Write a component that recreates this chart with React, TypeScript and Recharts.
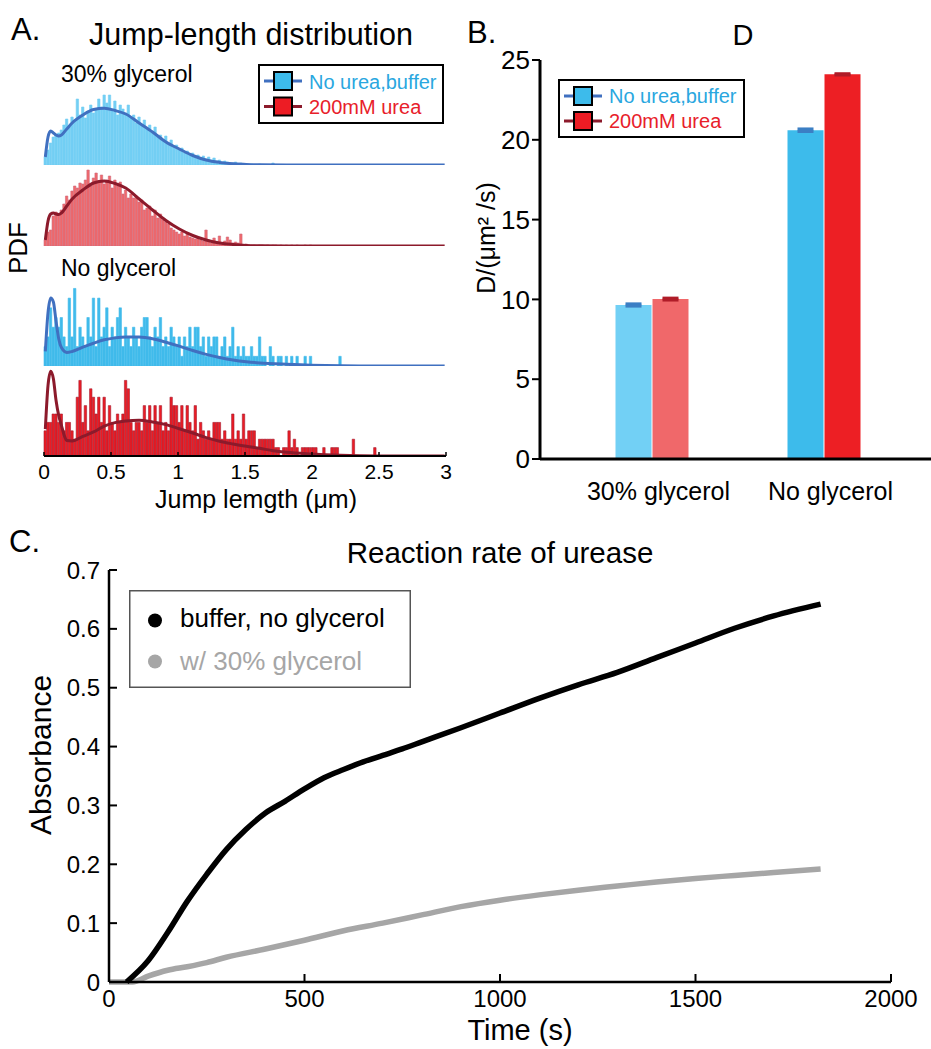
import {
  BarChart,
  Bar,
  Cell,
  ErrorBar,
  ComposedChart,
  LineChart,
  Line,
  XAxis,
  YAxis,
  Legend,
} from 'recharts'

const FONT = '"Liberation Sans", Arial, Helvetica, sans-serif'

// ---------- Panel A: jump-length histograms (bins of 0.02 µm) ----------
const BIN_WIDTH = 0.02
const BIN_COUNT = 150
const jumpTicks = [0, 0.5, 1, 1.5, 2, 2.5, 3]
const conditions = ['No urea,buffer', '200mM urea']

const gly30BufferHist = [
  8, 15, 22, 28, 30, 32, 35, 40, 46, 38, 48, 44, 66, 50, 58, 47, 54, 60, 52, 56,
  66, 58, 70, 62, 70, 55, 64, 50, 60, 56, 52, 60, 48, 50, 42, 48, 40, 45, 36, 40,
  32, 38, 28, 30, 24, 29, 22, 25, 18, 20, 15, 17, 12, 14, 10, 12, 8, 10, 7, 9,
  6, 8, 5, 7, 4, 5, 3, 4, 3, 2, 2, 3, 1, 2, 1, 1, 0, 1, 0, 0, 1, 0, 0, 0, 0, 2, 0,
]
const gly30BufferFitX = [0.01, 0.03, 0.05, 0.07, 0.09, 0.11, 0.13, 0.17, 0.21, 0.29, 0.37, 0.45, 0.53, 0.61, 0.71, 0.81, 0.91, 1.01, 1.11, 1.21, 1.31, 1.41, 1.51, 1.61, 1.81, 2.49, 2.99]
const gly30BufferFit = [8, 28, 34, 32, 30, 29, 30, 36, 42, 50, 55.5, 56.7, 54.5, 51, 42, 33, 23, 16, 9.5, 5, 2.6, 1.2, 0.6, 0.2, 0, 0, 0]

const gly30UreaHist = [
  6, 14, 16, 30, 34, 32, 36, 42, 50, 46, 55, 60, 58, 63, 62, 66, 76, 60, 68, 73,
  64, 71, 62, 66, 70, 58, 66, 60, 64, 52, 56, 48, 52, 48, 50, 44, 46, 36, 38, 40,
  30, 36, 28, 32, 26, 24, 22, 18, 16, 14, 12, 14, 10, 12, 9, 8, 7, 9, 6, 5,
  16, 6, 3, 8, 4, 10, 3, 5, 9, 6, 3, 4, 3, 12, 1, 2, 1, 1, 1, 0,
  1, 1, 0, 1, 0, 1, 1, 0, 1, 0, 1, 0, 1, 0, 1, 0, 0, 1, 0, 1,
]
const gly30UreaFitX = [0.01, 0.03, 0.05, 0.07, 0.09, 0.11, 0.13, 0.17, 0.21, 0.29, 0.37, 0.45, 0.53, 0.61, 0.71, 0.81, 0.91, 1.01, 1.11, 1.21, 1.31, 1.41, 1.51, 1.61, 1.81, 2.49, 2.99]
const gly30UreaFit = [6, 25, 32, 33, 32, 31.5, 33, 40, 47, 56, 63, 65, 62.5, 58, 47, 36, 25.5, 17, 10.5, 6, 3, 1.5, 0.6, 0.2, 0, 0, 0]

const noGlyBufferHist = [
  2, 3, 6, 4, 5, 4, 5, 3, 2, 7, 3, 8, 2, 4, 3, 2, 5, 3, 7, 2,
  7, 3, 4, 6, 2, 4, 3, 5, 6, 2, 4, 3, 2, 4, 3, 2, 4, 5, 5, 3,
  2, 4, 3, 5, 2, 3, 2, 4, 3, 2, 3, 1, 3, 2, 4, 2, 4, 4, 2, 3,
  1, 3, 2, 3, 3, 1, 2, 3, 1, 2, 4, 1, 2, 1, 2, 1, 1, 2, 1, 1,
  3, 1, 1, 0, 2, 1, 0, 1, 1, 0, 1, 0, 1, 0, 1, 0, 0, 1, 0, 1,
  0, 0, 0, 0, 0, 0, 0, 0, 0, 0, 1,
]
const noGlyBufferFitX = [0.01, 0.03, 0.05, 0.07, 0.09, 0.11, 0.13, 0.17, 0.21, 0.29, 0.37, 0.45, 0.53, 0.61, 0.71, 0.81, 0.91, 1.01, 1.11, 1.21, 1.31, 1.41, 1.51, 1.61, 1.81, 1.99, 2.49, 2.99]
const noGlyBufferFit = [1.5, 5.5, 7.0, 6.6, 4.6, 2.8, 1.9, 1.4, 1.5, 1.95, 2.35, 2.7, 2.9, 3.0, 2.98, 2.8, 2.45, 2.05, 1.6, 1.2, 0.88, 0.62, 0.44, 0.32, 0.18, 0.09, 0.01, 0]

const noGlyUreaHist = [
  3, 4, 4, 5, 5, 4, 5, 3, 4, 4, 3, 2, 7, 9, 4, 6, 3, 8, 7, 5,
  7, 4, 7, 3, 6, 4, 3, 5, 4, 5, 9, 8, 4, 3, 4, 4, 3, 6, 4, 6,
  3, 6, 4, 6, 3, 4, 3, 7, 6, 6, 4, 6, 3, 6, 4, 3, 6, 2, 4, 3,
  2, 3, 2, 4, 4, 4, 2, 3, 2, 2, 5, 2, 3, 2, 5, 2, 3, 3, 3, 1,
  2, 2, 2, 2, 2, 2, 1, 1, 0, 1, 1, 3, 1, 2, 1, 0, 1, 1, 1, 1,
  1, 1, 0, 0, 1, 0, 0, 1, 1, 1, 0, 0, 0, 0, 0, 2, 0, 0, 0, 0,
  0, 0, 0, 1,
]
const noGlyUreaFitX = [0.01, 0.03, 0.05, 0.07, 0.09, 0.11, 0.13, 0.15, 0.17, 0.21, 0.29, 0.37, 0.45, 0.53, 0.61, 0.71, 0.81, 0.91, 1.01, 1.11, 1.21, 1.31, 1.41, 1.51, 1.61, 1.71, 1.81, 1.99, 2.21, 2.49, 2.99]
const noGlyUreaFit = [3.2, 8.4, 10.1, 9.2, 6.6, 4.8, 3.65, 2.5, 1.85, 1.8, 2.34, 2.86, 3.57, 3.97, 4.17, 4.25, 4.05, 3.73, 3.25, 2.74, 2.18, 1.75, 1.43, 1.15, 0.91, 0.63, 0.44, 0.24, 0.08, 0, 0]

// ---------- Panel B: diffusion coefficient ----------
const dCategories = ['30% glycerol', 'No glycerol']
const dBuffer = [9.65, 20.6]
const dUrea = [10.02, 24.1]
const dBufferErr = [0.07, 0.08]
const dUreaErr = [0.06, 0.04]
const dTicks = [0, 5, 10, 15, 20, 25]

// ---------- Panel C: urease reaction rate ----------
const bufferTime = [45, 100, 150, 200, 250, 300, 350, 400, 450, 500, 550, 600, 650, 700, 750, 800, 900, 1000, 1100, 1200, 1300, 1400, 1500, 1600, 1700, 1820]
const bufferAbs = [0, 0.036, 0.084, 0.137, 0.183, 0.225, 0.259, 0.287, 0.307, 0.328, 0.347, 0.361, 0.374, 0.385, 0.396, 0.408, 0.432, 0.457, 0.482, 0.505, 0.526, 0.551, 0.576, 0.601, 0.622, 0.642]
const glyTime = [0, 60, 100, 150, 200, 250, 300, 400, 500, 600, 700, 800, 900, 1000, 1100, 1200, 1300, 1400, 1500, 1600, 1700, 1820]
const glyAbs = [0, 0, 0.01, 0.02, 0.026, 0.033, 0.042, 0.056, 0.071, 0.087, 0.1, 0.114, 0.128, 0.139, 0.148, 0.156, 0.163, 0.17, 0.176, 0.181, 0.186, 0.192]
const timeTicks = [0, 500, 1000, 1500, 2000]
const absTicks = [0, 0.1, 0.2, 0.3, 0.4, 0.5, 0.6, 0.7]

function buildHistTable(hist: number[], fitX: number[], fitY: number[]) {
  const rows: { x: number; h: number; f: number | null }[] = []
  for (let i = 0; i < BIN_COUNT; i++) {
    rows.push({ x: +(BIN_WIDTH / 2 + BIN_WIDTH * i).toFixed(2), h: hist[i] ?? 0, f: null })
  }
  fitX.forEach((x, k) => {
    const i = Math.round((x - BIN_WIDTH / 2) / BIN_WIDTH)
    rows[i].f = fitY[k]
  })
  return rows
}

const barTable = dCategories.map((cat, i) => ({
  cat,
  buffer: dBuffer[i],
  urea: dUrea[i],
  bufferErr: dBufferErr[i],
  ureaErr: dUreaErr[i],
}))

const rateTable = Array.from(new Set([...bufferTime, ...glyTime]))
  .sort((a, b) => a - b)
  .map((t) => {
    const bi = bufferTime.indexOf(t)
    const gi = glyTime.indexOf(t)
    return { t, buffer: bi >= 0 ? bufferAbs[bi] : null, gly: gi >= 0 ? glyAbs[gi] : null }
  })

const BLUE_FIT = '#4070c0'
const RED_FIT = '#8c1a2b'

interface SquareRow {
  cy: number
  ty: number
  label: string
  text: string
  line: string
  box: string
}

function SquareLegend({ width, height, rows }: { width: number; height: number; rows: SquareRow[] }) {
  return (
    <svg width={width} height={height} style={{ display: 'block', fontFamily: FONT }}>
      <rect x={1} y={1} width={width - 2} height={height - 2} fill="#fff" stroke="#000" strokeWidth={2} />
      {rows.map((r) => (
        <g key={r.label}>
          <line x1={6} x2={44} y1={r.cy} y2={r.cy} stroke={r.line} strokeWidth={3} />
          <rect x={16} y={r.cy - 9} width={18} height={18} fill={r.box} stroke="#000" strokeWidth={2} />
          <text x={51} y={r.ty} fontSize={20} fill={r.text}>
            {r.label}
          </text>
        </g>
      ))}
    </svg>
  )
}

interface HistRowProps {
  data: ReturnType<typeof buildHistTable>
  top: number
  plotH: number
  yMax: number
  fill: string
  edge: string
  curve: string
  frame?: boolean
}

// every row uses the same horizontal geometry: plot from x=44 to x=446
const ROW_LEFT = 22
const ROW_ML = 22

function HistRow({ data, top, plotH, yMax, fill, edge, curve, frame = false }: HistRowProps) {
  const mt = frame ? 0 : 5
  const mb = frame ? 0 : 3
  const xh = frame ? 60 : 0
  return (
    <div style={{ position: 'absolute', left: ROW_LEFT, top: top - mt }}>
      <ComposedChart
        width={ROW_ML + 402 + 25}
        height={mt + plotH + mb + xh}
        data={data}
        margin={{ top: mt, right: 25, bottom: mb, left: ROW_ML }}
        barCategoryGap={0}
        barGap={0}
      >
        <XAxis
          dataKey="x"
          type="number"
          domain={[0, 3]}
          ticks={jumpTicks}
          interval={0}
          hide={!frame}
          height={xh}
          tickSize={-4}
          tickMargin={12}
          axisLine={{ stroke: '#000', strokeWidth: 2 }}
          tickLine={{ stroke: '#000', strokeWidth: 1.5 }}
          tick={{ fontSize: 21, fill: '#000' }}
        />
        <YAxis
          type="number"
          domain={[0, yMax]}
          allowDataOverflow
          hide={!frame}
          width={0}
          tick={false}
          tickLine={false}
          axisLine={{ stroke: '#666', strokeWidth: 1 }}
        />
        <Bar dataKey="h" fill={fill} stroke={edge} strokeWidth={0.6} barSize={3.2} isAnimationActive={false} />
        <Line
          dataKey="f"
          type="monotone"
          stroke={curve}
          strokeWidth={3}
          dot={false}
          connectNulls
          isAnimationActive={false}
        />
        {frame && (
          <Legend
            layout="vertical"
            align="center"
            verticalAlign="middle"
            wrapperStyle={{ left: 258 - ROW_LEFT, top: 2, width: 186, height: 60 }}
            content={() => (
              <SquareLegend
                width={186}
                height={60}
                rows={[
                  { cy: 17, ty: 25, label: conditions[0], text: '#2aa7df', line: BLUE_FIT, box: '#3dbbeb' },
                  { cy: 42.5, ty: 50, label: conditions[1], text: '#e8202a', line: RED_FIT, box: '#ed1c24' },
                ]}
              />
            )}
          />
        )}
      </ComposedChart>
    </div>
  )
}

function CategoryTick({ x, y, payload }: any) {
  return (
    <text x={x + 7} y={y + 41} textAnchor="middle" fontSize={25} fill="#000" fontFamily={FONT}>
      {payload.value}
    </text>
  )
}

const lightColors = ['#72d0f5', '#3dbbeb']
const redColors = ['#f0686a', '#ed1f24']

export default function App() {
  const row1 = buildHistTable(gly30BufferHist, gly30BufferFitX, gly30BufferFit)
  const row2 = buildHistTable(gly30UreaHist, gly30UreaFitX, gly30UreaFit)
  const row3 = buildHistTable(noGlyBufferHist, noGlyBufferFitX, noGlyBufferFit)
  const row4 = buildHistTable(noGlyUreaHist, noGlyUreaFitX, noGlyUreaFit)

  return (
    <div
      style={{
        position: 'absolute',
        left: 0,
        top: 0,
        width: 931,
        height: 1049,
        overflow: 'hidden',
        background: '#fff',
        fontFamily: FONT,
      }}
    >
      {/* Panel A */}
      <HistRow data={row4} top={62} plotH={394} yMax={46.9} fill="#ec1c24" edge="#a41d30" curve={RED_FIT} frame />
      <HistRow data={row3} top={270} plotH={96} yMax={9.9} fill="#40bbeb" edge="#40bbeb" curve={BLUE_FIT} />
      <HistRow data={row2} top={165} plotH={81} yMax={81} fill="#f0696b" edge="#d06a7c" curve={RED_FIT} />
      <HistRow data={row1} top={62} plotH={103} yMax={103} fill="#73cff4" edge="#73cff4" curve={BLUE_FIT} />

      {/* Panel B */}
      <div style={{ position: 'absolute', left: 460, top: 0 }}>
        <BarChart
          width={480}
          height={520}
          data={barTable}
          margin={{ top: 60, right: 0, bottom: 0, left: 0 }}
          barGap={1}
          barSize={36}
        >
          <XAxis
            dataKey="cat"
            height={61}
            padding={{ left: 25.5, right: 30.5 }}
            tickLine={false}
            tickSize={0}
            tickMargin={0}
            interval={0}
            axisLine={{ stroke: '#000', strokeWidth: 3 }}
            tick={<CategoryTick />}
          />
          <XAxis
            xAxisId="top"
            orientation="top"
            type="number"
            domain={[0, 6]}
            allowDataOverflow
            ticks={[1, 2, 3, 4, 5]}
            height={0}
            tickSize={-8}
            tickFormatter={() => ''}
            axisLine={{ stroke: '#000', strokeWidth: 3 }}
            tickLine={{ stroke: '#000', strokeWidth: 2 }}
          />
          <YAxis
            width={80}
            domain={[0, 25]}
            ticks={dTicks}
            tickSize={8}
            tickMargin={2}
            axisLine={{ stroke: '#000', strokeWidth: 3 }}
            tickLine={{ stroke: '#000', strokeWidth: 2 }}
            tick={{ fontSize: 26, fill: '#000' }}
          />
          <Bar dataKey="buffer" isAnimationActive={false}>
            {barTable.map((_, i) => (
              <Cell key={i} fill={lightColors[i]} />
            ))}
            <ErrorBar dataKey="bufferErr" width={8} stroke="#3b7fc4" strokeWidth={3} />
          </Bar>
          <Bar dataKey="urea" isAnimationActive={false}>
            {barTable.map((_, i) => (
              <Cell key={i} fill={redColors[i]} />
            ))}
            <ErrorBar dataKey="ureaErr" width={8} stroke="#b01c28" strokeWidth={3} />
          </Bar>
          <Legend
            layout="vertical"
            align="center"
            verticalAlign="middle"
            wrapperStyle={{ left: 97.5, top: 79, width: 187, height: 59 }}
            content={() => (
              <SquareLegend
                width={187}
                height={59}
                rows={[
                  { cy: 17, ty: 24, label: conditions[0], text: '#2aa7df', line: BLUE_FIT, box: '#3dbbeb' },
                  { cy: 42, ty: 49, label: conditions[1], text: '#e8202a', line: RED_FIT, box: '#ed1c24' },
                ]}
              />
            )}
          />
        </BarChart>
      </div>

      {/* Panel C */}
      <div style={{ position: 'absolute', left: 0, top: 520 }}>
        <LineChart width={931} height={529} data={rateTable} margin={{ top: 50, right: 40, bottom: 0, left: 0 }}>
          <XAxis
            dataKey="t"
            type="number"
            domain={[0, 2000]}
            ticks={timeTicks}
            interval={0}
            height={67}
            tickSize={-8}
            tickMargin={16}
            axisLine={{ stroke: '#000', strokeWidth: 2.5 }}
            tickLine={{ stroke: '#000', strokeWidth: 2 }}
            tick={{ fontSize: 24, fill: '#000' }}
          />
          <XAxis
            xAxisId="top"
            orientation="top"
            type="number"
            domain={[0, 2000]}
            allowDataOverflow
            ticks={[500, 1000, 1500]}
            height={0}
            tickSize={-8}
            tickFormatter={() => ''}
            axisLine={{ stroke: '#000', strokeWidth: 2.5 }}
            tickLine={{ stroke: '#000', strokeWidth: 2 }}
          />
          <YAxis
            type="number"
            domain={[0, 0.7]}
            ticks={absTicks}
            interval={0}
            width={109}
            tickSize={-8}
            tickMargin={17}
            axisLine={{ stroke: '#000', strokeWidth: 2.5 }}
            tickLine={{ stroke: '#000', strokeWidth: 2 }}
            tick={{ fontSize: 24, fill: '#000' }}
          />
          <YAxis
            yAxisId="right"
            orientation="right"
            type="number"
            domain={[0, 0.7]}
            allowDataOverflow
            ticks={[0.1, 0.2, 0.3, 0.4, 0.5, 0.6]}
            width={0}
            tickSize={-8}
            tickFormatter={() => ''}
            axisLine={{ stroke: '#000', strokeWidth: 2.5 }}
            tickLine={{ stroke: '#000', strokeWidth: 2 }}
          />
          <Line type="monotone" dataKey="gly" stroke="#a6a6a6" strokeWidth={5.5} dot={false} connectNulls isAnimationActive={false} />
          <Line type="monotone" dataKey="buffer" stroke="#000" strokeWidth={5.5} dot={false} connectNulls isAnimationActive={false} />
          <Legend
            layout="vertical"
            align="center"
            verticalAlign="middle"
            wrapperStyle={{ left: 129, top: 70, width: 282, height: 98 }}
            content={() => (
              <svg width={282} height={98} style={{ display: 'block', fontFamily: FONT }}>
                <rect x={0.75} y={0.75} width={280.5} height={96.5} fill="#fff" stroke="#555" strokeWidth={1.5} />
                <circle cx={26} cy={30.5} r={7} fill="#000" />
                <text x={51} y={37} fontSize={26} fill="#000">
                  buffer, no glycerol
                </text>
                <circle cx={26} cy={71.5} r={7} fill="#a6a6a6" />
                <text x={51} y={80} fontSize={26} fill="#a6a6a6">
                  w/ 30% glycerol
                </text>
              </svg>
            )}
          />
        </LineChart>
      </div>

      {/* titles and axis captions */}
      <svg
        width={931}
        height={1049}
        style={{ position: 'absolute', left: 0, top: 0, pointerEvents: 'none', fontFamily: FONT }}
      >
        <text x={11} y={40} fontSize={31} fill="#000">A.</text>
        <text x={251} y={45} fontSize={30.5} textAnchor="middle" fill="#000">Jump-length distribution</text>
        <text x={61} y={82} fontSize={23} fill="#000">30% glycerol</text>
        <text x={61} y={276} fontSize={23} fill="#000">No glycerol</text>
        <text transform="translate(27, 248) rotate(-90)" fontSize={26} textAnchor="middle" fill="#000">PDF</text>
        <text x={256} y={508} fontSize={25} textAnchor="middle" fill="#000">Jump lemgth (μm)</text>

        <text x={467} y={43} fontSize={31} fill="#000">B.</text>
        <text x={743} y={45} fontSize={29} textAnchor="middle" fill="#000">D</text>
        <text transform="translate(495, 238) rotate(-90)" fontSize={25} textAnchor="middle" fill="#000">D/(μm² /s)</text>

        <text x={9} y={552} fontSize={31} fill="#000">C.</text>
        <text x={500} y={563} fontSize={29.5} textAnchor="middle" fill="#000">Reaction rate of urease</text>
        <text transform="translate(51, 755) rotate(-90)" fontSize={30} textAnchor="middle" fill="#000">Absorbance</text>
        <text x={520} y={1040} fontSize={29} textAnchor="middle" fill="#000">Time (s)</text>
      </svg>
    </div>
  )
}
